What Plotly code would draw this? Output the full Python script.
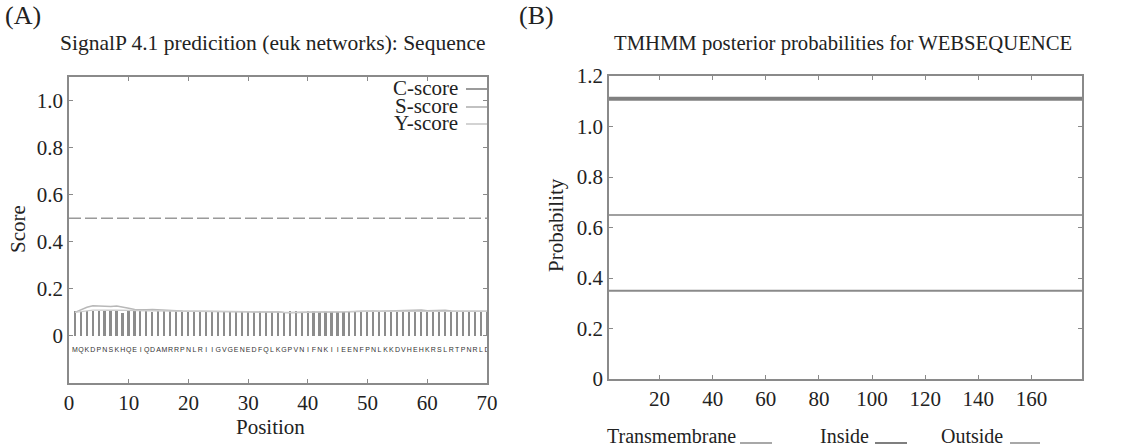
import plotly.graph_objects as go

# ---------------- data: panel A (SignalP) ----------------
sequence = list("MQKDPNSKHQEIQDAMRRPNLRIIGVGENEDFQLKGPVNIFNKIIEENFPNLKKDVHEHKRSLRTPNRLD")
positions_a = list(range(1, len(sequence) + 1))
c_score = [0.104, 0.104, 0.105, 0.104, 0.104, 0.105, 0.104, 0.105, 0.097, 0.104,
           0.105, 0.104, 0.104, 0.103, 0.104, 0.104, 0.105, 0.104, 0.103, 0.104,
           0.104, 0.103, 0.104, 0.103, 0.104, 0.103, 0.104, 0.104, 0.103, 0.104,
           0.103, 0.104, 0.103, 0.103, 0.104, 0.103, 0.104, 0.104, 0.102, 0.104,
           0.104, 0.103, 0.104, 0.103, 0.104, 0.104, 0.103, 0.104, 0.103, 0.104,
           0.104, 0.103, 0.104, 0.104, 0.103, 0.104, 0.104, 0.104, 0.103, 0.104,
           0.104, 0.104, 0.103, 0.104, 0.104, 0.104, 0.104, 0.103, 0.104, 0.104]
s_score = [0.100, 0.112, 0.122, 0.128, 0.127, 0.123, 0.125, 0.127, 0.124, 0.118,
           0.112, 0.110, 0.111, 0.112, 0.110, 0.108, 0.107, 0.107, 0.106, 0.106,
           0.106, 0.105, 0.106, 0.106, 0.105, 0.105, 0.104, 0.104, 0.103, 0.103,
           0.102, 0.103, 0.104, 0.104, 0.103, 0.100, 0.098, 0.100, 0.102, 0.101,
           0.102, 0.103, 0.103, 0.102, 0.102, 0.103, 0.104, 0.106, 0.107, 0.106,
           0.106, 0.105, 0.106, 0.107, 0.107, 0.106, 0.108, 0.110, 0.110, 0.107,
           0.108, 0.110, 0.109, 0.106, 0.106, 0.107, 0.106, 0.105, 0.105, 0.105]
y_score = [0.100, 0.104, 0.108, 0.110, 0.110, 0.108, 0.109, 0.110, 0.109, 0.107,
           0.106, 0.106, 0.107, 0.107, 0.106, 0.105, 0.105, 0.105, 0.105, 0.104,
           0.104, 0.104, 0.104, 0.104, 0.104, 0.104, 0.103, 0.103, 0.103, 0.102,
           0.102, 0.102, 0.103, 0.103, 0.102, 0.100, 0.099, 0.100, 0.101, 0.101,
           0.101, 0.102, 0.102, 0.101, 0.101, 0.102, 0.103, 0.104, 0.105, 0.104,
           0.104, 0.104, 0.104, 0.105, 0.105, 0.104, 0.105, 0.107, 0.107, 0.105,
           0.106, 0.107, 0.106, 0.104, 0.104, 0.105, 0.104, 0.104, 0.104, 0.104]
threshold = 0.5
seq_label_level = -0.06
a_xticks = [0, 10, 20, 30, 40, 50, 60, 70]
a_yticks = [0, 0.2, 0.4, 0.6, 0.8, 1.0]
a_yticktext = ["0", "0.2", "0.4", "0.6", "0.8", "1.0"]

# ---------------- data: panel B (TMHMM) ----------------
b_positions = [1, 179]
inside_prob = [0.35, 0.35]
outside_prob = [0.65, 0.65]
topology_bar = [1.11, 1.11]
b_xticks = [20, 40, 60, 80, 100, 120, 140, 160]
b_yticks = [0, 0.2, 0.4, 0.6, 0.8, 1.0, 1.2]
b_yticktext = ["0", "0.2", "0.4", "0.6", "0.8", "1.0", "1.2"]

W, H = 1142, 448
FONT = "Liberation Serif"
AX = "#8a8a8a"


def px(x):
    return x / W


def py(y):
    return 1 - y / H


fig = go.Figure()

# Panel A traces
fig.add_trace(go.Bar(x=positions_a, y=c_score, width=0.28, marker=dict(color="#8c8c8c", line=dict(width=0)),
                     xaxis="x", yaxis="y", showlegend=False))
fig.add_trace(go.Scatter(x=positions_a, y=s_score, mode="lines", line=dict(color="#b8b8b8", width=1.5),
                         xaxis="x", yaxis="y", showlegend=False))
fig.add_trace(go.Scatter(x=positions_a, y=y_score, mode="lines", line=dict(color="#cccccc", width=1.3),
                         xaxis="x", yaxis="y", showlegend=False))
fig.add_trace(go.Scatter(x=[0, 70], y=[threshold, threshold], mode="lines",
                         line=dict(color="#9a9a9a", width=1.5, dash="12px,4px"),
                         xaxis="x", yaxis="y", showlegend=False))
fig.add_trace(go.Scatter(x=positions_a, y=[seq_label_level] * len(sequence), mode="text", text=sequence,
                         textfont=dict(family="Liberation Sans", size=7, color="#333333"),
                         xaxis="x", yaxis="y", showlegend=False))

# Panel B traces
fig.add_trace(go.Scatter(x=b_positions, y=topology_bar, mode="lines", line=dict(color="#808080", width=4),
                         xaxis="x2", yaxis="y2", showlegend=False))
fig.add_trace(go.Scatter(x=b_positions, y=outside_prob, mode="lines", line=dict(color="#a0a0a0", width=2),
                         xaxis="x2", yaxis="y2", showlegend=False))
fig.add_trace(go.Scatter(x=b_positions, y=inside_prob, mode="lines", line=dict(color="#8a8a8a", width=2),
                         xaxis="x2", yaxis="y2", showlegend=False))

axis_common = dict(showline=True, linecolor=AX, linewidth=1.5, mirror="allticks", ticks="inside",
                   ticklen=4, tickwidth=1, tickcolor=AX, showgrid=False, zeroline=False,
                   automargin=False, tickfont=dict(family=FONT, size=21, color="#222"))

fig.update_layout(
    template="none",
    width=W, height=H, margin=dict(l=0, r=0, t=0, b=0, pad=0, autoexpand=False),
    paper_bgcolor="white", plot_bgcolor="white",
    xaxis=dict(domain=[px(69), px(487)], range=[0, 70], tickvals=a_xticks, anchor="y", **axis_common),
    yaxis=dict(domain=[py(383), py(77)], range=[-0.2, 1.1], tickvals=a_yticks, ticktext=a_yticktext,
               anchor="x", **axis_common),
    xaxis2=dict(domain=[px(609), px(1082)], range=[1, 179], tickvals=b_xticks, anchor="y2", **axis_common),
    yaxis2=dict(domain=[py(379), py(76)], range=[0, 1.2], tickvals=b_yticks, ticktext=b_yticktext,
                anchor="x2", **axis_common),
    bargap=0,
)

ann = []


def text(x, y, s, size=20, xanchor="center", angle=0, color="#222"):
    ann.append(dict(x=px(x), y=py(y), xref="paper", yref="paper", text=s, showarrow=False,
                    xanchor=xanchor, yanchor="middle", textangle=angle, borderpad=0,
                    font=dict(family=FONT, size=size, color=color)))


text(4, 16, "(A)", size=26, xanchor="left")
text(518, 16, "(B)", size=26, xanchor="left")
text(273, 43, "SignalP 4.1 predicition (euk networks): Sequence", size=21.5)
text(843, 43, "TMHMM posterior probabilities for WEBSEQUENCE", size=20.7)
text(18, 229, "Score", size=21, angle=-90)
text(270, 427, "Position", size=21)
text(556, 225, "Probability", size=21, angle=-90)

# Panel A legend
shapes = []
for label, yy, col in [("C-score", 88, "#7a7a7a"), ("S-score", 106, "#adadad"), ("Y-score", 123, "#c4c4c4")]:
    text(459, yy, label, size=21, xanchor="right")
    shapes.append(dict(type="line", xref="paper", yref="paper", x0=px(466), x1=px(487),
                       y0=py(yy + 1), y1=py(yy + 1), line=dict(color=col, width=1.5)))

# Panel B legend
for label, x0, lx0, lx1, col in [("Transmembrane", 606, 740, 772, "#a8a8a8"),
                                 ("Inside", 819, 875, 907, "#7f7f7f"),
                                 ("Outside", 940, 1010, 1040, "#a8a8a8")]:
    text(x0, 436, label, size=20, xanchor="left")
    shapes.append(dict(type="line", xref="paper", yref="paper", x0=px(lx0), x1=px(lx1),
                       y0=py(443), y1=py(443), line=dict(color=col, width=2)))

fig.update_layout(annotations=ann, shapes=shapes)
fig.write_html("out.html", config={"displayModeBar": False},
               post_script="document.body.style.margin='0px';")
